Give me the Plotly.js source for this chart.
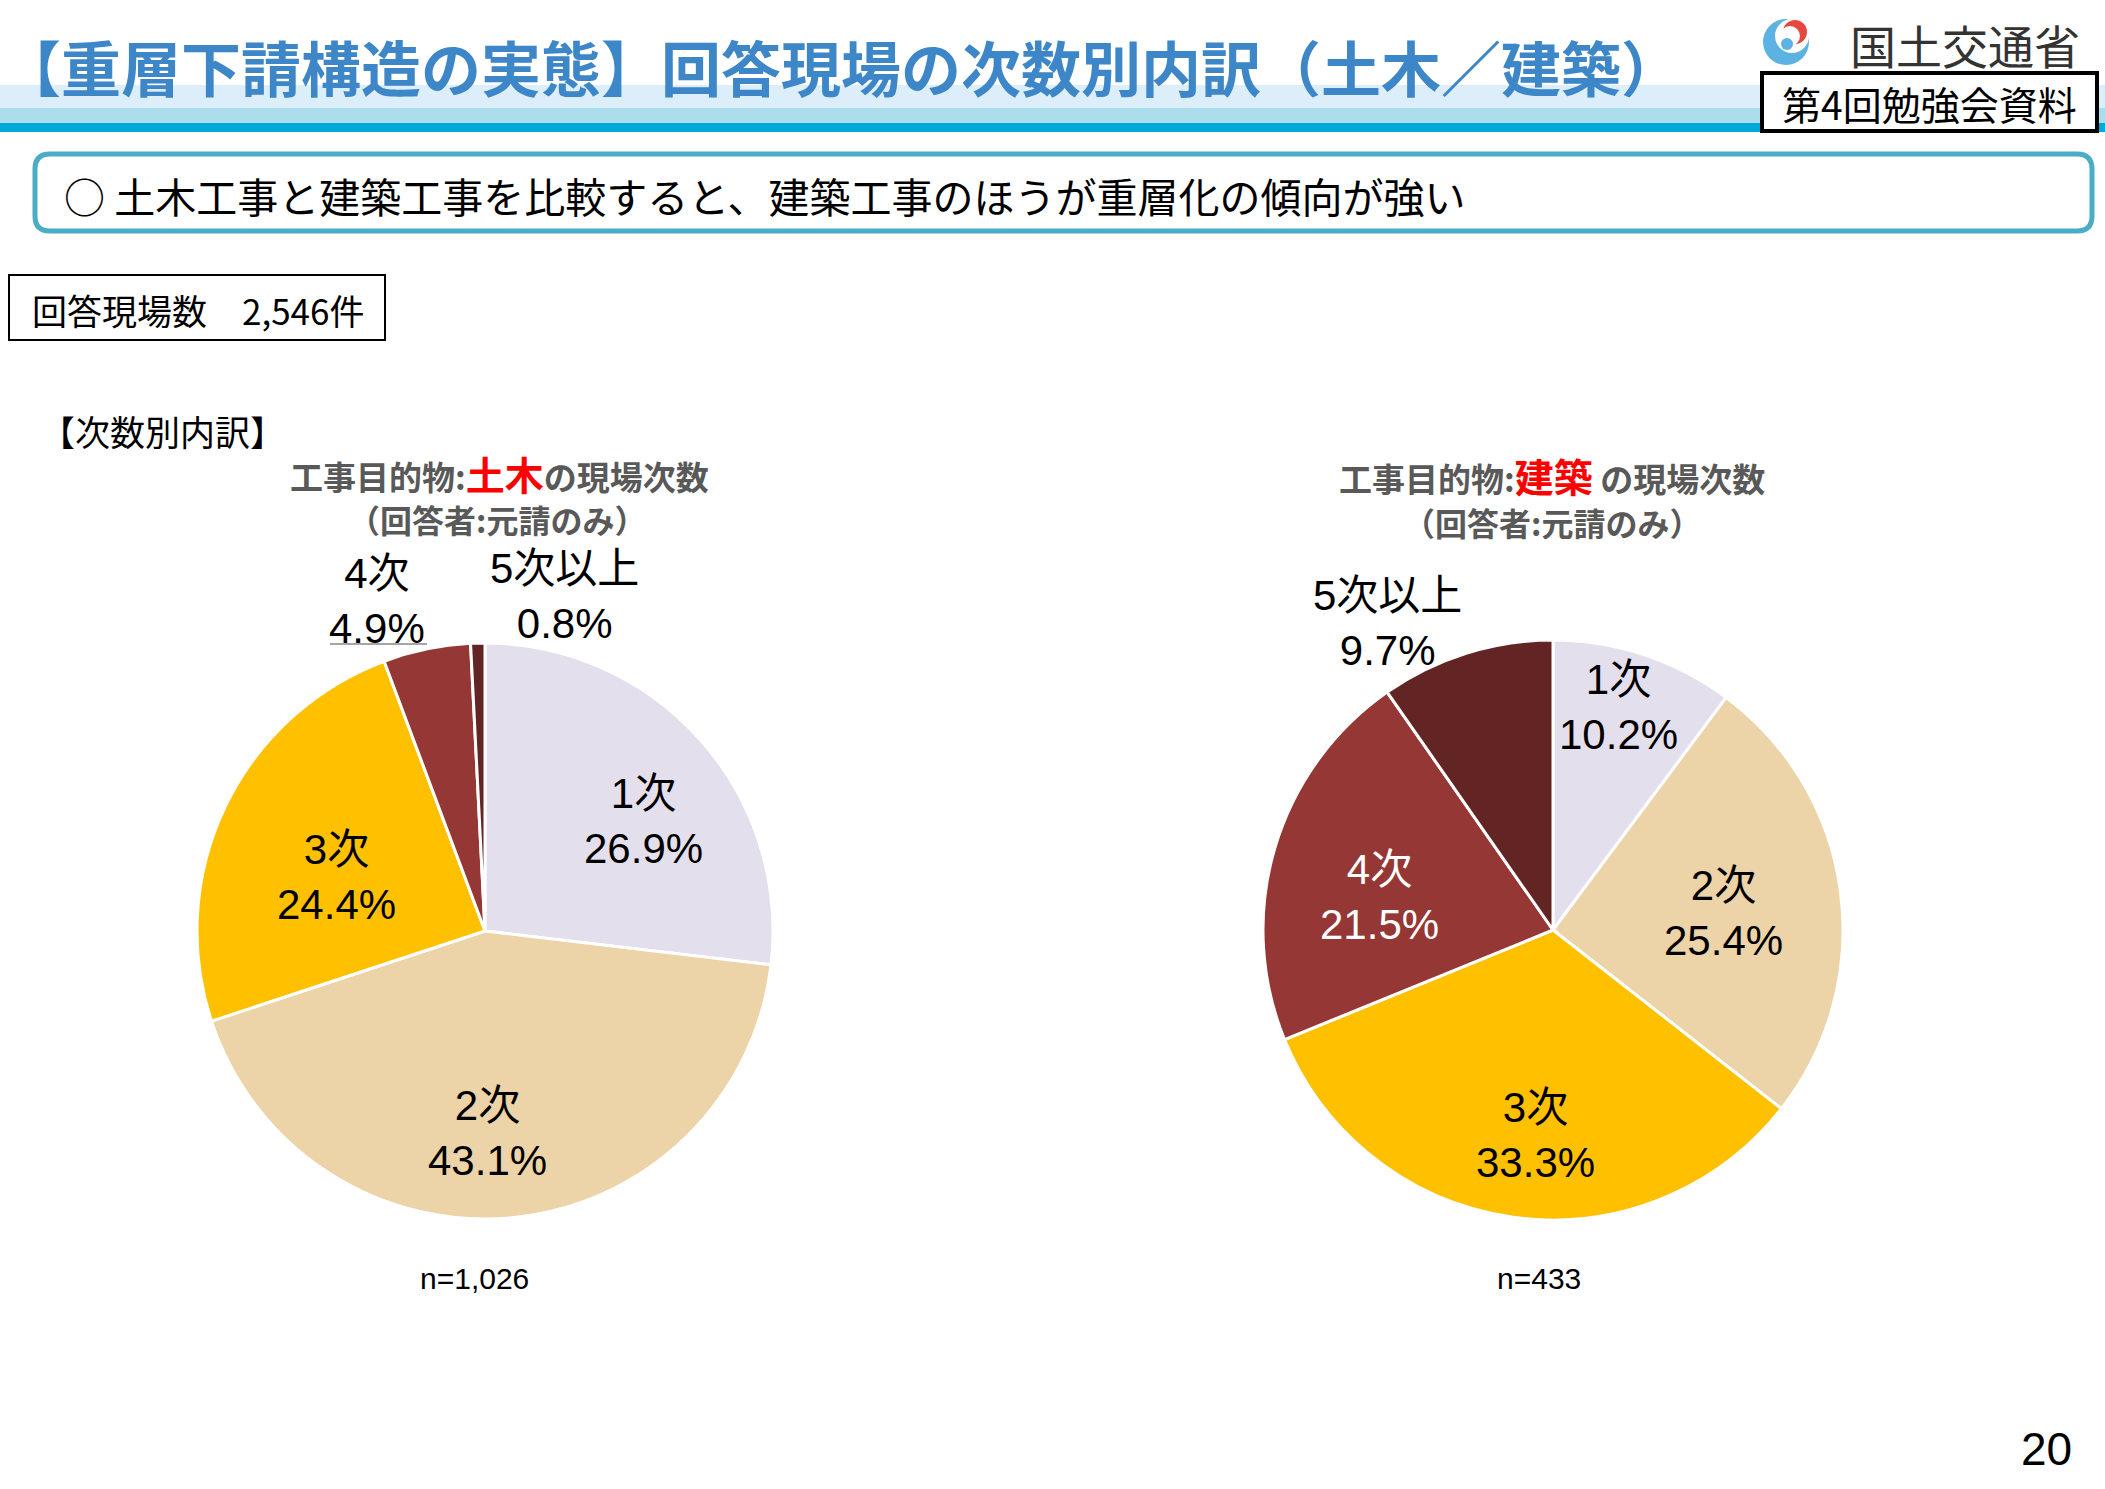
<!DOCTYPE html>
<html>
<head>
<meta charset="utf-8">
<script src="https://cdn.plot.ly/plotly-3.0.1.min.js"></script>
<style>
html, body { margin: 0; padding: 0; background: #ffffff; }
#chart { width: 2105px; height: 1489px; }
</style>
</head>
<body>
<div id="chart"></div>
<script>
// ---------------- data ----------------
const categories = ['1次', '2次', '3次', '4次', '5次以上'];
const civilValues = [26.9, 43.1, 24.4, 4.9, 0.8];      // 土木
const buildingValues = [10.2, 25.4, 33.3, 21.5, 9.7];  // 建築
const civilCount = 'n=1,026';
const buildingCount = 'n=433';
const totalSitesLabel = '回答現場数　2,546件';
const pageTitle = '【重層下請構造の実態】回答現場の次数別内訳（土木／建築）';
const summaryText = '○ 土木工事と建築工事を比較すると、建築工事のほうが重層化の傾向が強い';
const sectionLabel = '【次数別内訳】';
const civilTitle = ['工事目的物:', '土木', 'の現場次数'];
const buildingTitle = ['工事目的物:', '建築', ' の現場次数'];
const respondentNote = '（回答者:元請のみ）';
const ministryName = '国土交通省';
const meetingLabel = '第4回勉強会資料';
const pageNumber = '20';

// ---------------- styles / layout ----------------
const W = 2105, H = 1489;
const px = x => x / W;
const py = y => 1 - y / H;
const CJK = '"Noto Sans CJK JP", "Noto Sans", sans-serif';
const LABEL_FONT = '"Liberation Sans", Arial, "Noto Sans CJK JP", sans-serif';
const sliceColors = ['#E4DFEC', '#EDD3A8', '#FFC000', '#953735', '#632523'];

const civilGeo = { cx: 485, cy: 931, r: 288 };
const buildingGeo = { cx: 1553, cy: 930, r: 290 };

const civilLabelStyle = {
  rf: [0.67, 0.70, 0.55, 0, 0],
  dAng: [7, 5, -5.5, 0, 0],
  fixed: { 3: [377, 601], 4: [564, 596] },
  colors: ['#000000', '#000000', '#000000', '#000000', '#000000']
};
const buildingLabelStyle = {
  rf: [0.80, 0.59, 0.71, 0.61, 0],
  dAng: [-2, 2, -3, -5.7, 0],
  fixed: { 4: [1387, 623] },
  colors: ['#000000', '#000000', '#000000', '#FFFFFF', '#000000']
};

function pieTrace(values, geo, name) {
  return {
    type: 'pie',
    name: name,
    values: values,
    labels: categories,
    sort: false,
    direction: 'clockwise',
    rotation: 0,
    marker: { colors: sliceColors, line: { color: '#FFFFFF', width: 3 } },
    textinfo: 'none',
    hoverinfo: 'label+value',
    showlegend: false,
    domain: {
      x: [px(geo.cx - geo.r), px(geo.cx + geo.r)],
      y: [py(geo.cy + geo.r), py(geo.cy - geo.r)]
    }
  };
}

function sliceLabels(values, geo, style) {
  const total = values.reduce((a, b) => a + b, 0);
  let cum = 0;
  return values.map((v, i) => {
    const mid = (cum + v / 2) / total * 360;
    cum += v;
    let x, y;
    if (style.fixed[i]) {
      x = style.fixed[i][0]; y = style.fixed[i][1];
    } else {
      const a = (mid + style.dAng[i]) * Math.PI / 180;
      x = geo.cx + style.rf[i] * geo.r * Math.sin(a);
      y = geo.cy - style.rf[i] * geo.r * Math.cos(a);
    }
    return {
      text: categories[i] + '<br>' + v.toFixed(1) + '%',
      x: px(x), y: py(y), xref: 'paper', yref: 'paper',
      xanchor: 'center', yanchor: 'middle', showarrow: false,
      align: 'center',
      font: { family: LABEL_FONT, size: 42, color: style.colors[i] }
    };
  });
}

function textAnn(text, x, y, font, extra) {
  return Object.assign({
    text: text, x: px(x), y: py(y), xref: 'paper', yref: 'paper',
    xanchor: 'center', yanchor: 'middle', showarrow: false, font: font
  }, extra || {});
}

function rect(x0, y0, x1, y1, fill, line) {
  return {
    type: 'rect', xref: 'paper', yref: 'paper',
    x0: px(x0), x1: px(x1), y0: py(y1), y1: py(y0),
    fillcolor: fill, line: line || { width: 0 }, layer: 'below'
  };
}

function circle(cx, cy, r, fill) {
  return {
    type: 'circle', xref: 'paper', yref: 'paper',
    x0: px(cx - r), x1: px(cx + r), y0: py(cy + r), y1: py(cy - r),
    fillcolor: fill, line: { width: 0 }, layer: 'above'
  };
}

function roundRect(x0, y0, x1, y1, r, lineColor, lineWidth) {
  const P = (x, y) => px(x) + ',' + py(y);
  const d = 'M' + P(x0 + r, y0) + ' L' + P(x1 - r, y0) +
    ' Q' + P(x1, y0) + ' ' + P(x1, y0 + r) +
    ' L' + P(x1, y1 - r) +
    ' Q' + P(x1, y1) + ' ' + P(x1 - r, y1) +
    ' L' + P(x0 + r, y1) +
    ' Q' + P(x0, y1) + ' ' + P(x0, y1 - r) +
    ' L' + P(x0, y0 + r) +
    ' Q' + P(x0, y0) + ' ' + P(x0 + r, y0) + ' Z';
  return {
    type: 'path', xref: 'paper', yref: 'paper', path: d,
    fillcolor: 'rgba(0,0,0,0)', line: { color: lineColor, width: lineWidth }, layer: 'above'
  };
}

const grayBold = { family: CJK, size: 33, color: '#595959', weight: 700 };
function pieTitle(parts) {
  return parts[0] + '<span style="color:#FF0000;font-size:39px">' + parts[1] + '</span>' + parts[2];
}

const annotations = [
  // ministry name
  textAnn(ministryName, 1965, 44, { family: CJK, size: 46, color: '#333333' }),
  // meeting label
  textAnn(meetingLabel, 1929, 103, { family: CJK, size: 39, color: '#000000' }),
  // summary line
  textAnn(summaryText, 62, 195, { family: CJK, size: 41, color: '#000000' }, { xanchor: 'left' }),
  // total sites
  textAnn(totalSitesLabel, 30, 309, { family: CJK, size: 35, color: '#000000' }, { xanchor: 'left' }),
  // section label
  textAnn(sectionLabel, 38, 430, { family: CJK, size: 35, color: '#000000' }, { xanchor: 'left' }),
  // pie titles
  textAnn(pieTitle(civilTitle), 499, 473, grayBold),
  textAnn(respondentNote, 497, 519, { family: CJK, size: 32, color: '#595959', weight: 700 }),
  textAnn(pieTitle(buildingTitle), 1552, 475, grayBold),
  textAnn(respondentNote, 1552, 522, { family: CJK, size: 32, color: '#595959', weight: 700 }),
  // n counts
  textAnn(civilCount, 474, 1278, { family: LABEL_FONT, size: 30, color: '#000000' }),
  textAnn(buildingCount, 1539, 1278, { family: LABEL_FONT, size: 30, color: '#000000' }),
  // page number
  textAnn(pageNumber, 2046, 1449, { family: LABEL_FONT, size: 46, color: '#000000' })
].concat(sliceLabels(civilValues, civilGeo, civilLabelStyle))
 .concat(sliceLabels(buildingValues, buildingGeo, buildingLabelStyle));

const shapes = [
  // header bands
  rect(0, 85, W, 108, '#DCEEFA'),
  rect(0, 108, W, 123, '#ABDDED'),
  rect(0, 123, W, 132, '#00A9D6'),
  // meeting label box
  {
    type: 'rect', xref: 'paper', yref: 'paper',
    x0: px(1762), x1: px(2097), y0: py(131), y1: py(73),
    fillcolor: '#FFFFFF', line: { color: '#000000', width: 4 }, layer: 'above'
  },
  // summary rounded box
  roundRect(35, 154, 2092, 231, 15, '#4BACC6', 5),
  // total sites box
  {
    type: 'rect', xref: 'paper', yref: 'paper',
    x0: px(9), x1: px(385), y0: py(340), y1: py(275),
    fillcolor: 'rgba(0,0,0,0)', line: { color: '#000000', width: 2 }, layer: 'above'
  },
  // leader underline for 4次 label (civil)
  {
    type: 'line', xref: 'paper', yref: 'paper',
    x0: px(330), x1: px(427), y0: py(644), y1: py(644),
    line: { color: '#A6A6A6', width: 2 }, layer: 'above'
  },
  // logo
  circle(1786, 42, 23, '#5DB2E4'),
  circle(1792, 36, 17, '#FFFFFF'),
  circle(1795, 32, 12, '#E8473D'),
  circle(1790, 36, 10, '#FFFFFF'),
  circle(1787, 44, 6, '#5DB2E4')
];

const layout = {
  width: W, height: H,
  margin: { l: 0, r: 0, t: 0, b: 0 },
  paper_bgcolor: '#FFFFFF',
  plot_bgcolor: '#FFFFFF',
  showlegend: false,
  title: {
    text: pageTitle,
    x: px(1), xanchor: 'left',
    y: py(71), yanchor: 'middle',
    font: { family: CJK, size: 60, color: '#3D86C8', weight: 700 }
  },
  annotations: annotations,
  shapes: shapes
};

Plotly.newPlot('chart', [
  pieTrace(civilValues, civilGeo, '土木'),
  pieTrace(buildingValues, buildingGeo, '建築')
], layout, { displayModeBar: false, responsive: false });
</script>
</body>
</html>
